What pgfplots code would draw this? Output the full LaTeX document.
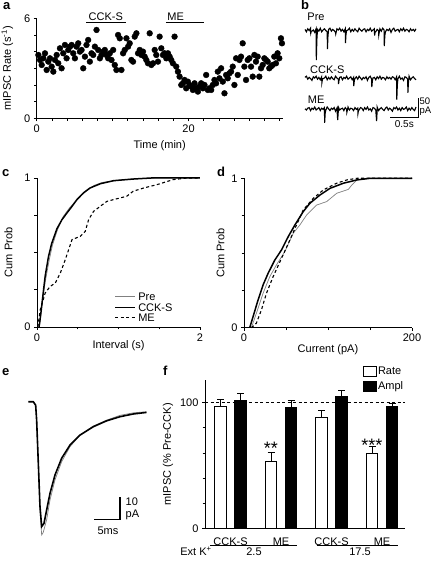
\documentclass[border=0pt]{standalone}
\usepackage{fontspec}
\setmainfont{Liberation Sans}
\usepackage{pgfplots}
\pgfplotsset{compat=1.18}
\pgfplotsset{
  panel/.style={
    scale only axis, anchor=south west, clip=false,
    axis x line*=bottom, axis y line*=left,
    tick align=outside, major tick length=3pt, minor tick length=2.5pt,
    tick style={black, line width=0.7pt},
    axis line style={black, line width=0.8pt},
    tick label style={font=\fontsize{11}{13}\selectfont},
    label style={font=\fontsize{11}{13}\selectfont},
    /pgf/number format/assume math mode=true,
  },
}
\tikzset{plabel/.style={font=\fontsize{13}{13}\selectfont\bfseries, anchor=base west, inner sep=0pt}}
\begin{document}
\begin{tikzpicture}[x=1pt,y=1pt,font=\fontsize{11}{13}\selectfont]
\useasboundingbox (0,0) rectangle (436,562);
\node[plabel] at (3,552.5) {a};
\node[plabel] at (301,552.5) {b};
\node[plabel] at (2,385) {c};
\node[plabel] at (217,385) {d};
\node[plabel] at (2,186) {e};
\node[plabel] at (163,186) {f};

% ---------------- panel a
\begin{axis}[panel, at={(36.7pt,443.7pt)}, width=246pt, height=100pt,
 xmin=0, xmax=32.4, ymin=0, ymax=6,
 xtick={0,20}, minor xtick={2,4,...,32}, ytick={0,6}, minor ytick={1,2,3,4,5},
 xlabel={Time (min)}, ylabel={mIPSC Rate (s\textsuperscript{-1})},
 ylabel shift=4pt, xlabel shift=1pt]
\addplot[only marks, mark=*, mark size=2.9pt, black] coordinates {
(0.22,3.8) (0.44,3.5) (0.66,3.2) (0.88,3.6) (1.09,3.9) (1.31,2.9) (1.53,3.4) (1.75,3.6) (1.97,3.1) (2.19,2.8) (2.41,3.5) (2.63,3.8) (2.84,3.3) (3.06,4.2) (3.28,3.0) (3.50,3.9) (3.72,4.4) (3.94,3.6) (4.16,4.1) (4.38,4.3) (4.60,4.4) (4.81,3.9) (5.03,3.6) (5.25,4.3) (5.47,4.5) (5.69,4.0) (5.91,4.1) (6.13,3.0) (6.35,3.7) (6.56,4.4) (6.78,4.7) (7.00,3.4) (7.22,3.9) (7.44,3.8) (7.66,4.3) (7.88,5.3) (8.10,4.1) (8.32,3.6) (8.53,3.8) (8.75,4.0) (8.97,4.1) (9.19,3.8) (9.41,3.6) (9.63,3.9) (9.85,3.5) (10.07,4.1) (10.28,3.2) (10.50,2.9) (10.72,5.0) (10.94,4.8) (11.16,2.9) (11.38,3.9) (11.60,4.1) (11.82,4.8) (12.04,4.3) (12.25,4.5) (12.47,3.5) (12.69,3.4) (12.91,4.9) (13.13,5.1) (13.35,3.9) (13.57,4.1) (13.79,3.8) (14.00,4.0) (14.22,3.7) (14.44,3.5) (14.66,3.3) (14.88,5.1) (15.10,3.2) (15.32,3.3) (15.54,4.1) (15.75,3.8) (15.97,3.4) (16.19,4.9) (16.41,4.2) (16.63,3.8) (16.85,3.9) (17.07,3.6) (17.29,3.9) (17.51,3.7) (17.72,3.5) (17.94,3.3) (18.16,4.9) (18.38,3.1) (18.60,2.8) (18.82,2.5) (19.04,2.0) (19.26,2.1) (19.47,2.3) (19.69,1.8) (19.91,2.2) (20.13,2.0) (20.35,1.9) (20.57,1.7) (20.79,2.1) (21.01,1.8) (21.23,1.6) (21.44,1.9) (21.66,2.1) (21.88,1.8) (22.10,2.0) (22.32,2.6) (22.54,1.7) (22.76,1.8) (22.98,1.7) (23.19,2.0) (23.41,2.3) (23.63,2.1) (23.85,2.8) (24.07,2.4) (24.29,3.0) (24.51,2.2) (24.73,1.5) (24.95,2.6) (25.16,2.4) (25.38,2.7) (25.60,2.8) (25.82,3.1) (26.04,2.0) (26.26,3.6) (26.48,2.6) (26.70,3.5) (26.91,3.7) (27.13,4.5) (27.35,3.1) (27.57,2.3) (27.79,3.5) (28.01,3.6) (28.23,3.1) (28.45,2.5) (28.67,3.8) (28.88,3.4) (29.10,3.7) (29.32,2.5) (29.54,3.0) (29.76,3.2) (29.98,3.6) (30.20,3.5) (30.42,3.4) (30.63,3.0) (30.85,3.1) (31.07,3.2) (31.29,3.7) (31.51,3.3) (31.73,3.9) (31.95,3.6) (32.17,4.8) (32.30,4.5)};
\draw[line width=1pt] (axis cs:6.5,5.72) -- (axis cs:11.75,5.72);
\draw[line width=1pt] (axis cs:17.0,5.72) -- (axis cs:22.0,5.72);
\node[anchor=base, inner sep=0pt] at (axis cs:9.1,5.85) {CCK-S};
\node[anchor=base west, inner sep=0pt] at (axis cs:17.2,5.85) {ME};
\end{axis}

% ---------------- panel b
\begin{axis}[hide axis, scale only axis, anchor=south west, clip=false, at={(305pt,428pt)},
 width=111pt, height=108pt, xmin=0, xmax=2, ymin=-260, ymax=10]
\addplot[black, line width=1.1pt] coordinates {
(0,1.5) (0.025,-4.5) (0.05,3) (0.075,-1.5) (0.1,4.5) (0.104,-8) (0.114,-3) (0.125,-3) (0.15,0) (0.175,-6) (0.2,3) (0.204,-75) (0.214,-24) (0.225,1.5) (0.25,-3) (0.275,4.5) (0.3,-4.5) (0.325,0) (0.35,3) (0.375,-1.5) (0.4,-4.5) (0.404,-48) (0.414,-15) (0.425,1.5) (0.45,4.5) (0.475,-3) (0.5,1.5) (0.525,-1.5) (0.55,-6) (0.554,-10) (0.564,-4) (0.575,3) (0.6,0) (0.625,4.5) (0.65,-3) (0.675,1.5) (0.7,-4.5) (0.725,3) (0.729,-33) (0.739,-10) (0.75,-1.5) (0.775,0) (0.8,4.5) (0.825,-4.5) (0.85,1.5) (0.875,-3) (0.9,3) (0.925,-1.5) (0.95,-4.5) (0.975,4.5) (1.0,0) (1.025,-3) (1.05,1.5) (1.075,3) (1.1,-4.5) (1.125,1.5) (1.15,-1.5) (1.175,4.5) (1.2,-3) (1.225,0) (1.25,3) (1.254,-14) (1.264,-5) (1.275,-4.5) (1.3,1.5) (1.325,-1.5) (1.329,-13) (1.339,-5) (1.35,3) (1.375,-3) (1.4,4.5) (1.425,0) (1.429,-40) (1.439,-13) (1.45,-4.5) (1.475,1.5) (1.5,-1.5) (1.525,3) (1.55,-6) (1.575,1.5) (1.6,4.5) (1.625,-3) (1.65,0) (1.675,1.5) (1.7,-4.5) (1.725,3) (1.75,-1.5) (1.775,4.5) (1.8,-3) (1.825,1.5) (1.85,0) (1.875,-4.5) (1.9,3) (1.925,-1.5) (1.95,1.5) (1.975,-3) (2.0,3)};
\addplot[black, line width=1.1pt] coordinates {
(0,-118.5) (0.025,-115.5) (0.05,-123) (0.075,-118.5) (0.1,-121.5) (0.125,-126) (0.15,-117) (0.175,-120) (0.2,-115.5) (0.225,-123) (0.25,-118.5) (0.275,-124.5) (0.3,-117) (0.304,-132) (0.314,-124) (0.325,-121.5) (0.35,-120) (0.375,-115.5) (0.4,-124.5) (0.425,-118.5) (0.45,-123) (0.475,-117) (0.5,-121.5) (0.525,-124.5) (0.55,-115.5) (0.575,-120) (0.6,-123) (0.604,-135) (0.614,-125) (0.625,-118.5) (0.65,-117) (0.675,-124.5) (0.7,-118.5) (0.725,-121.5) (0.75,-115.5) (0.775,-123) (0.8,-120) (0.825,-117) (0.85,-124.5) (0.875,-118.5) (0.879,-140) (0.889,-126) (0.9,-121.5) (0.925,-117) (0.95,-123) (0.975,-115.5) (1.0,-120) (1.025,-124.5) (1.05,-118.5) (1.075,-121.5) (1.1,-117) (1.125,-126) (1.15,-118.5) (1.175,-115.5) (1.2,-123) (1.204,-143) (1.214,-127) (1.225,-120) (1.25,-118.5) (1.275,-124.5) (1.3,-117) (1.325,-121.5) (1.35,-115.5) (1.375,-123) (1.4,-118.5) (1.425,-120) (1.45,-124.5) (1.475,-117) (1.5,-121.5) (1.525,-118.5) (1.55,-123) (1.575,-117) (1.6,-118.5) (1.625,-124.5) (1.65,-117) (1.654,-174) (1.664,-136) (1.675,-121.5) (1.7,-115.5) (1.725,-123) (1.75,-120) (1.775,-126) (1.8,-117) (1.825,-118.5) (1.85,-123) (1.854,-157) (1.864,-131) (1.875,-115.5) (1.9,-124.5) (1.925,-120) (1.95,-117) (1.975,-121.5) (2.0,-124.5)};
\addplot[black, line width=1.1pt] coordinates {
(0,-197) (0.025,-200) (0.05,-195.5) (0.075,-194) (0.1,-201.5) (0.125,-195.5) (0.15,-198.5) (0.175,-192.5) (0.2,-200) (0.225,-197) (0.25,-194) (0.275,-201.5) (0.3,-195.5) (0.325,-198.5) (0.35,-194) (0.354,-232) (0.364,-208) (0.375,-200) (0.4,-192.5) (0.425,-197) (0.45,-201.5) (0.475,-195.5) (0.5,-198.5) (0.525,-194) (0.55,-203) (0.575,-195.5) (0.589,-225) (0.599,-205) (0.6,-192.5) (0.625,-200) (0.65,-197) (0.675,-195.5) (0.7,-201.5) (0.725,-194) (0.75,-198.5) (0.754,-206) (0.764,-200) (0.775,-192.5) (0.8,-200) (0.825,-195.5) (0.85,-197) (0.875,-201.5) (0.9,-194) (0.925,-198.5) (0.95,-195.5) (0.954,-209) (0.964,-201) (0.975,-200) (1.0,-194) (1.025,-195.5) (1.05,-201.5) (1.075,-194) (1.1,-198.5) (1.125,-192.5) (1.15,-200) (1.175,-197) (1.2,-203) (1.225,-194) (1.25,-195.5) (1.275,-200) (1.29,-228) (1.298,-207) (1.3,-192.5) (1.325,-201.5) (1.35,-197) (1.375,-194) (1.4,-198.5) (1.425,-201.5) (1.45,-195.5) (1.475,-192.5) (1.5,-200) (1.525,-195.5) (1.55,-198.5) (1.575,-203) (1.6,-194) (1.625,-197) (1.65,-192.5) (1.675,-200) (1.7,-195.5) (1.725,-201.5) (1.75,-194) (1.775,-198.5) (1.8,-197) (1.825,-192.5) (1.85,-201.5) (1.875,-195.5) (1.9,-200) (1.925,-194) (1.95,-198.5) (1.975,-201.5) (2.0,-192.5)};
\draw[line width=1pt] (axis cs:1.54,-220) -- (axis cs:2.04,-220) -- (axis cs:2.04,-170);
\node[anchor=base west, inner sep=0pt, font=\fontsize{9.5}{11}\selectfont] at (axis cs:2.06,-187) {50};
\node[anchor=base west, inner sep=0pt, font=\fontsize{9.5}{11}\selectfont] at (axis cs:2.06,-210) {pA};
\node[anchor=north, inner sep=0pt, font=\fontsize{10}{12}\selectfont] at (axis cs:1.79,-227) {0.5s};
\node[anchor=base west, inner sep=0pt] at (axis cs:0.04,22.5) {Pre};
\node[anchor=base west, inner sep=0pt] at (axis cs:0.09,-108) {CCK-S};
\node[anchor=base west, inner sep=0pt] at (axis cs:0.05,-185) {ME};
\end{axis}

% ---------------- panel c
\begin{axis}[panel, at={(37pt,235pt)}, width=163pt, height=149pt,
 xmin=0, xmax=2, ymin=0, ymax=1,
 xtick={0,2}, minor xtick={0.5,1,1.5}, ytick={0,1}, minor ytick={0.25,0.5,0.75},
 xlabel={Interval (s)}, ylabel={Cum Prob}, ylabel shift=5pt, xlabel shift=-8pt]
\addplot[gray, line width=0.7pt] coordinates {
(0.03,0) (0.06,0.15) (0.1,0.3) (0.15,0.45) (0.19,0.55) (0.25,0.65) (0.32,0.74) (0.4,0.8) (0.5,0.86) (0.6,0.91) (0.7,0.95) (0.8,0.97) (1.0,0.985) (1.2,0.995) (1.5,1) (2,1)};
\addplot[black, line width=1.5pt] coordinates {
(0.025,0) (0.045,0.08) (0.07,0.2) (0.1,0.34) (0.14,0.47) (0.18,0.56) (0.245,0.66) (0.306,0.72) (0.367,0.765) (0.43,0.81) (0.49,0.855) (0.57,0.9) (0.65,0.933) (0.78,0.962) (0.94,0.982) (1.18,0.993) (1.4,1) (2,1)};
\addplot[black, line width=1.1pt, dash pattern=on 3pt off 2.5pt] coordinates {
(0.01,0) (0.04,0.116) (0.1,0.228) (0.163,0.273) (0.224,0.295) (0.286,0.362) (0.347,0.452) (0.388,0.519) (0.429,0.586) (0.531,0.609) (0.592,0.642) (0.633,0.72) (0.694,0.776) (0.776,0.81) (0.857,0.843) (0.939,0.855) (1.02,0.866) (1.1,0.877) (1.18,0.911) (1.31,0.933) (1.47,0.955) (1.67,0.989) (1.84,1) (2,1)};
% legend
\draw[gray, line width=0.7pt] (axis description cs:0.479,0.203) -- (axis description cs:0.601,0.203);
\draw[black, line width=1.5pt] (axis description cs:0.479,0.132) -- (axis description cs:0.601,0.132);
\draw[black, line width=1.1pt, dash pattern=on 3pt off 2.5pt] (axis description cs:0.479,0.062) -- (axis description cs:0.601,0.062);
\node[anchor=west, inner sep=0pt] at (axis description cs:0.62,0.203) {Pre};
\node[anchor=west, inner sep=0pt] at (axis description cs:0.62,0.132) {CCK-S};
\node[anchor=west, inner sep=0pt] at (axis description cs:0.62,0.062) {ME};
\end{axis}

% ---------------- panel d
\begin{axis}[panel, at={(244pt,234.3pt)}, width=168pt, height=149.4pt,
 xmin=0, xmax=200, ymin=0, ymax=1,
 xtick={0,200}, minor xtick={50,100,150}, ytick={0,1}, minor ytick={0.25,0.5,0.75},
 xlabel={Current (pA)}, ylabel={Cum Prob}, xlabel shift=-4pt]
\addplot[gray, line width=0.7pt] coordinates {
(8.8,0) (14.7,0.096) (22.7,0.23) (30.7,0.342) (38.6,0.42) (48.6,0.509) (58.6,0.632) (66.5,0.6875) (74.5,0.754) (86.5,0.821) (98.4,0.844) (110.4,0.9) (124.3,0.926) (128.3,0.955) (134.3,0.989) (150,1) (200,1)};
\addplot[black, line width=1.5pt] coordinates {
(6.8,0) (10.8,0.074) (16.7,0.185) (22.7,0.286) (28.7,0.364) (36.7,0.453) (44.6,0.52) (52.6,0.609) (60.6,0.6875) (70.5,0.777) (78.5,0.833) (90.4,0.888) (102.4,0.933) (118.3,0.967) (134.3,0.989) (150.2,1) (200,1)};
\addplot[black, line width=1.1pt, dash pattern=on 3pt off 2.5pt] coordinates {
(8.8,0) (14.7,0.03) (20.7,0.118) (26.7,0.23) (34.7,0.342) (44.6,0.464) (54.6,0.587) (62.5,0.6875) (70.5,0.788) (82.5,0.866) (94.4,0.922) (110.4,0.967) (122.3,0.989) (134.3,1) (200,1)};
\end{axis}

% ---------------- panel e
\begin{axis}[hide axis, scale only axis, anchor=south west, clip=false, at={(28.3pt,24.1pt)},
 width=121.8pt, height=140.7pt, xmin=0, xmax=23.7, ymin=-60, ymax=2]
\addplot[gray, line width=0.7pt] coordinates {
(0,0) (0.97,0) (1.43,-1.5) (1.62,-8) (1.95,-28) (2.27,-48) (2.6,-58.7) (2.9,-57.6) (3.57,-52) (4.22,-43.3) (5.19,-34.5) (6.49,-26.4) (8.11,-19.8) (10.06,-14.7) (12.65,-10.7) (15.25,-8.1) (17.84,-6.0) (20.4,-4.9) (23.0,-4.4)};
\addplot[black, line width=1.6pt] coordinates {
(0,0) (0.97,0) (1.43,-1.5) (1.62,-8) (1.95,-27) (2.27,-46) (2.6,-55) (3.05,-53.6) (3.57,-47.7) (4.22,-40.4) (5.19,-32.3) (6.49,-24.9) (8.11,-19.1) (10.06,-14.7) (12.65,-11) (15.25,-8.4) (17.84,-6.6) (20.4,-5.4) (23.0,-4.7)};
\draw[line width=1.4pt] (axis cs:12.84,-51.8) -- (axis cs:17.84,-51.8) -- (axis cs:17.84,-41.8);
\node[anchor=west, inner sep=0pt] at (axis cs:18.9,-44) {10};
\node[anchor=base west, inner sep=0pt] at (axis cs:18.9,-50.8) {pA};
\node[inner sep=0pt] at (axis cs:15.5,-56.7) {5ms};
\end{axis}

% ---------------- panel f
\begin{axis}[panel, at={(205pt,33.7pt)}, width=200pt, height=148.2pt,
 ybar=8.5pt, bar width=11.5pt,
 xmin=-0.505, xmax=3.455, ymin=0, ymax=118,
 xtick={0,1,2,3}, xticklabels={CCK-S,ME,CCK-S,ME}, x tick style={draw=none},
 x tick label style={yshift=-3pt},
 ytick={0,100}, minor ytick={20,40,60,80},
 ylabel={mIPSC (\% Pre-CCK)},
 legend image code/.code={\draw[#1, /tikz/.cd, line width=0.8pt] (0pt,-5pt) rectangle (13pt,5pt);},
 legend cell align=left,
 legend style={at={(0.79,1.095)}, anchor=north west, draw=none, fill=none,
   inner sep=0pt, row sep=3pt, font=\fontsize{11}{13}\selectfont, nodes={inner sep=1pt}}]
\draw[black, line width=0.8pt, dash pattern=on 3pt off 2.5pt] (axis cs:-0.505,100) -- (axis cs:3.455,100);
\addplot[fill=white, draw=black, line width=0.8pt,
  error bars/.cd, y dir=plus, y explicit, error bar style={line width=0.8pt},
  error mark options={rotate=90, line width=0.8pt, mark size=3.5pt}]
 coordinates {(0,97.3) +- (0,5.6) (1,53) +- (0,7.5) (2,88.3) +- (0,5.9) (3,59.7) +- (0,5.3)};
\addlegendentry{Rate}
\addplot[fill=black, draw=black, line width=0.8pt,
  error bars/.cd, y dir=plus, y explicit, error bar style={line width=0.8pt},
  error mark options={rotate=90, line width=0.8pt, mark size=3.5pt}]
 coordinates {(0,101.6) +- (0,5.8) (1,96.3) +- (0,5.3) (2,105.3) +- (0,4.2) (3,96.8) +- (0,2.7)};
\addlegendentry{Ampl}
\node[font=\fontsize{18}{18}\selectfont, inner sep=0pt, anchor=base] at (axis cs:0.8,59) {**};
\node[font=\fontsize{18}{18}\selectfont, inner sep=0pt, anchor=base] at (axis cs:2.8,61) {***};
\draw[line width=0.8pt] (axis cs:-0.406,-13.3) -- (axis cs:1.311,-13.3);
\draw[line width=0.8pt] (axis cs:1.707,-13.3) -- (axis cs:3.323,-13.3);
\node[anchor=base, inner sep=0pt] at (axis cs:0.465,-21.5) {2.5};
\node[anchor=base, inner sep=0pt] at (axis cs:2.564,-21.5) {17.5};
\node[anchor=base, inner sep=0pt] at (axis cs:-0.683,-21.5) {Ext K\textsuperscript{+}};
\end{axis}
\end{tikzpicture}
\end{document}
